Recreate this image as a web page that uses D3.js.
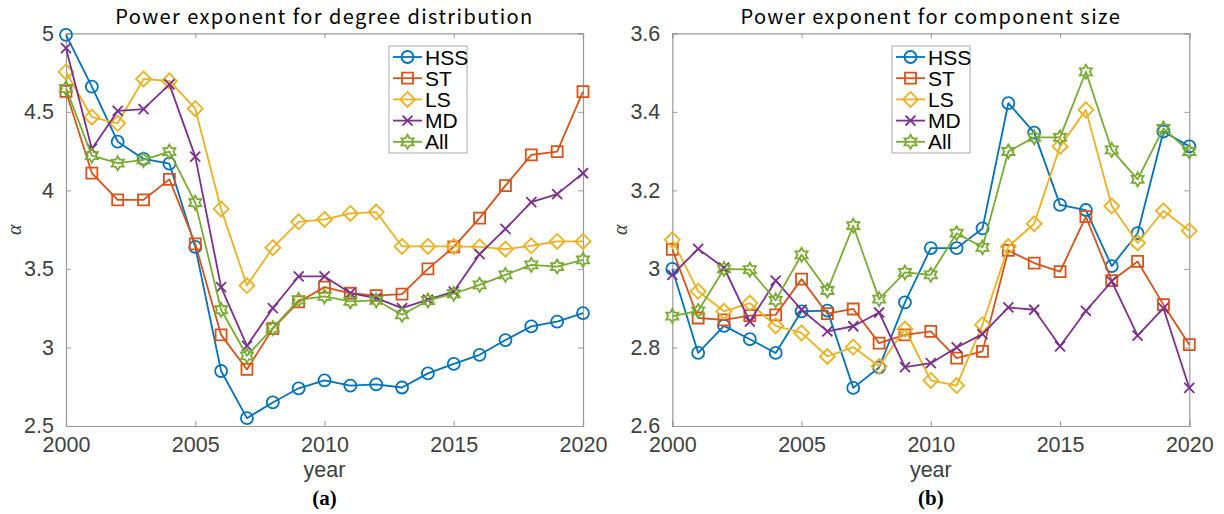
<!DOCTYPE html>
<html>
<head>
<meta charset="utf-8">
<script src="https://cdn.jsdelivr.net/npm/d3@7"></script>
<style>
  html, body { margin: 0; padding: 0; background: #fff; }
  svg { display: block; }
</style>
</head>
<body>
<svg id="chart" width="1224" height="514"></svg>
<script>
// ---- data ----
const years = d3.range(2000, 2021);
const seriesNames = ["HSS", "ST", "LS", "MD", "All"];

// (a) power exponent for degree distribution
const degHSS = [4.99, 4.66, 4.31, 4.20, 4.17, 3.64, 2.85, 2.55, 2.65, 2.74, 2.79, 2.757, 2.765, 2.745, 2.835, 2.895, 2.953, 3.047, 3.134, 3.165, 3.219];
const degST  = [4.63, 4.11, 3.94, 3.94, 4.07, 3.66, 3.08, 2.86, 3.12, 3.29, 3.384, 3.345, 3.33, 3.34, 3.50, 3.64, 3.823, 4.03, 4.226, 4.247, 4.629];
const degLS  = [4.754, 4.466, 4.427, 4.709, 4.697, 4.52, 3.882, 3.394, 3.635, 3.80, 3.815, 3.853, 3.862, 3.643, 3.643, 3.643, 3.64, 3.626, 3.647, 3.675, 3.675];
const degMD  = [4.905, 4.264, 4.506, 4.517, 4.675, 4.215, 3.384, 3.01, 3.25, 3.452, 3.452, 3.346, 3.314, 3.25, 3.305, 3.356, 3.594, 3.755, 3.925, 3.976, 4.109];
const degAll = [4.65, 4.221, 4.173, 4.194, 4.247, 3.922, 3.24, 2.947, 3.123, 3.303, 3.325, 3.293, 3.30, 3.208, 3.299, 3.342, 3.399, 3.462, 3.526, 3.515, 3.558];

// (b) power exponent for component size
const compHSS = [3.00, 2.786, 2.855, 2.821, 2.786, 2.892, 2.894, 2.697, 2.749, 2.915, 3.053, 3.053, 3.103, 3.422, 3.347, 3.163, 3.15, 3.007, 3.091, 3.35, 3.312];
const compST  = [3.05, 2.875, 2.87, 2.881, 2.883, 2.974, 2.886, 2.898, 2.811, 2.832, 2.841, 2.773, 2.79, 3.047, 3.015, 2.993, 3.133, 2.97, 3.019, 2.909, 2.807];
const compLS  = [3.074, 2.943, 2.892, 2.913, 2.855, 2.837, 2.777, 2.801, 2.752, 2.847, 2.716, 2.703, 2.858, 3.057, 3.115, 3.312, 3.405, 3.16, 3.066, 3.148, 3.097];
const compMD  = [2.985, 3.051, 3.003, 2.866, 2.97, 2.896, 2.841, 2.854, 2.889, 2.75, 2.76, 2.80, 2.834, 2.902, 2.896, 2.803, 2.893, 2.968, 2.83, 2.90, 2.697];
const compAll = [2.88, 2.893, 3.00, 2.998, 2.92, 3.036, 2.945, 3.11, 2.923, 2.991, 2.985, 3.091, 3.055, 3.299, 3.335, 3.335, 3.502, 3.303, 3.228, 3.358, 3.299];

const xTicks = [2000, 2005, 2010, 2015, 2020];
const degYTicks = [2.5, 3, 3.5, 4, 4.5, 5];
const compYTicks = [2.6, 2.8, 3.0, 3.2, 3.4, 3.6];

// ---- style ----
const colors = ["#0072BD", "#D95319", "#EDB120", "#7E2F8E", "#77AC30"];
const markers = ["circle", "square", "diamond", "cross", "hexagram"];
const axisColor = "#9a9a9a";
const tickTextColor = "#404040";
const sansFont = "'Liberation Sans', Arial, sans-serif";
const titleFont = "'Noto Sans CJK JP', 'Noto Sans', sans-serif";

const svg = d3.select("#chart");

function markerPath(type) {
  const p = d3.path();
  if (type === "circle") {
    p.arc(0, 0, 6, 0, 2 * Math.PI);
  } else if (type === "square") {
    p.rect(-5.5, -5.5, 11, 11);
  } else if (type === "diamond") {
    p.moveTo(0, -7.5); p.lineTo(7.5, 0); p.lineTo(0, 7.5); p.lineTo(-7.5, 0); p.closePath();
  } else if (type === "cross") {
    p.moveTo(-5, -5); p.lineTo(5, 5); p.moveTo(-5, 5); p.lineTo(5, -5);
  } else if (type === "hexagram") {
    const R = 7, r = R / Math.sqrt(3);
    for (let i = 0; i < 12; i++) {
      const a = -Math.PI / 2 + i * Math.PI / 6;
      const rad = i % 2 === 0 ? R : r;
      const x = rad * Math.cos(a), y = rad * Math.sin(a);
      if (i === 0) p.moveTo(x, y); else p.lineTo(x, y);
    }
    p.closePath();
  }
  return p.toString();
}

function drawPanel(opt) {
  const { left, right, top, bottom, yDomain, yTicks, yFmt, data, title, tag, legendX } = opt;
  const x = d3.scaleLinear().domain([2000, 2020]).range([left, right]);
  const y = d3.scaleLinear().domain(yDomain).range([bottom, top]);
  const g = svg.append("g");

  // axes (box with inward ticks on all sides)
  const axBottom = g.append("g").attr("transform", `translate(0,${bottom})`)
    .call(d3.axisBottom(x).tickValues(xTicks).tickFormat(d3.format("d")).tickSize(-5).tickPadding(11));
  const axTop = g.append("g").attr("transform", `translate(0,${top})`)
    .call(d3.axisTop(x).tickValues(xTicks).tickFormat("").tickSize(-5));
  const axLeft = g.append("g").attr("transform", `translate(${left},0)`)
    .call(d3.axisLeft(y).tickValues(yTicks).tickFormat(yFmt).tickSize(-5).tickPadding(12));
  const axRight = g.append("g").attr("transform", `translate(${right},0)`)
    .call(d3.axisRight(y).tickValues(yTicks).tickFormat("").tickSize(-5));
  [axBottom, axTop, axLeft, axRight].forEach(a => {
    a.select(".domain").attr("stroke", axisColor).attr("stroke-width", 1.2);
    a.selectAll(".tick line").attr("stroke", axisColor).attr("stroke-width", 1);
    a.selectAll(".tick text").attr("fill", tickTextColor)
      .style("font-family", sansFont).style("font-size", "21.5px");
  });
  axBottom.selectAll(".tick text").attr("dy", "0.72em");

  // series lines and markers
  data.forEach((vals, i) => {
    const pts = years.map((yr, j) => [x(yr), y(vals[j])]);
    g.append("path")
      .attr("d", d3.line()(pts))
      .attr("fill", "none").attr("stroke", colors[i]).attr("stroke-width", 1.8)
      .attr("stroke-linejoin", "round");
    g.append("g").selectAll("path").data(pts).join("path")
      .attr("transform", d => `translate(${d[0]},${d[1]})`)
      .attr("d", markerPath(markers[i]))
      .attr("fill", "none").attr("stroke", colors[i]).attr("stroke-width", 1.8);
  });

  // title
  g.append("text").attr("x", (left + right) / 2).attr("y", 24)
    .attr("text-anchor", "middle").attr("fill", "#000")
    .style("font-family", titleFont).style("font-size", "20px")
    .style("letter-spacing", "1.4px")
    .text(title);

  // axis labels
  g.append("text").attr("x", (left + right) / 2).attr("y", 477)
    .attr("text-anchor", "middle").attr("fill", tickTextColor)
    .style("font-family", sansFont).style("font-size", "21.5px").text("year");
  g.append("text").attr("transform", `translate(${left - 45},${(top + bottom) / 2}) rotate(-90)`)
    .attr("text-anchor", "middle").attr("fill", tickTextColor)
    .style("font-family", "'Liberation Serif', 'DejaVu Serif', serif").style("font-style", "italic")
    .style("font-size", "20px").text("α");
  g.append("text").attr("x", (left + right) / 2).attr("y", 505)
    .attr("text-anchor", "middle").attr("fill", "#000")
    .style("font-family", "'Liberation Serif', 'Times New Roman', serif").style("font-weight", "bold")
    .style("font-size", "21px").text(tag);

  // legend
  const lg = g.append("g").attr("transform", `translate(${legendX},46)`);
  lg.append("rect").attr("x", 0).attr("y", 0).attr("width", 78).attr("height", 107)
    .attr("fill", "#fff").attr("stroke", "#a8a8a8").attr("stroke-width", 1);
  seriesNames.forEach((name, i) => {
    const cy = 11 + i * 21.2;
    lg.append("line").attr("x1", 4).attr("x2", 33).attr("y1", cy).attr("y2", cy)
      .attr("stroke", colors[i]).attr("stroke-width", 1.8);
    lg.append("path").attr("transform", `translate(18.5,${cy})`)
      .attr("d", markerPath(markers[i]))
      .attr("fill", "none").attr("stroke", colors[i]).attr("stroke-width", 1.8);
    lg.append("text").attr("x", 36).attr("y", cy).attr("dy", "0.36em")
      .attr("fill", "#000").style("font-family", sansFont).style("font-size", "21px").text(name);
  });
}

drawPanel({
  left: 66, right: 583, top: 33.3, bottom: 426,
  yDomain: [2.5, 5], yTicks: degYTicks, yFmt: d3.format("~g"),
  data: [degHSS, degST, degLS, degMD, degAll],
  title: "Power exponent for degree distribution", tag: "(a)", legendX: 389
});

drawPanel({
  left: 672.3, right: 1189.3, top: 33.3, bottom: 426,
  yDomain: [2.6, 3.6], yTicks: compYTicks, yFmt: d3.format("~g"),
  data: [compHSS, compST, compLS, compMD, compAll],
  title: "Power exponent for component size", tag: "(b)", legendX: 892
});
</script>
</body>
</html>
